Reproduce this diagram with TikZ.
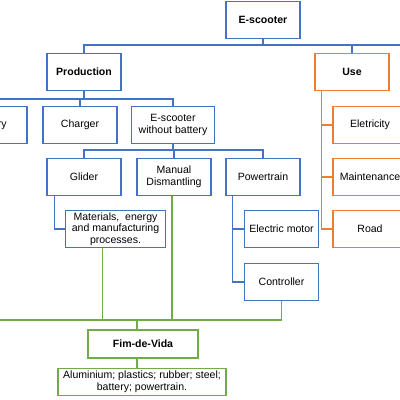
\documentclass[tikz,border=0pt]{standalone}
\usepackage{fontspec}
\setmainfont{Liberation Sans}
\usepackage{tikz}
\usetikzlibrary{positioning}
\definecolor{Blue}{HTML}{4472C4}
\definecolor{Orange}{HTML}{ED7D31}
\definecolor{Green}{HTML}{70AD47}

\begin{document}
\begin{tikzpicture}[x=0.025cm,y=-0.025cm,
    box/.style={draw=Blue,line width=0.8pt,fill=white,minimum width=1.85cm,
      minimum height=0.92cm,align=center,inner sep=1pt,
      font=\fontsize{7.5}{8.2}\selectfont},
    head/.style={box,font=\fontsize{7.5}{8.2}\selectfont\bfseries},
    usebox/.style={box,draw=Orange},
    eolbox/.style={box,draw=Green},
    bline/.style={draw=Blue,line width=0.8pt},
    oline/.style={draw=Orange,line width=0.8pt},
    gline/.style={draw=Green,line width=0.8pt}
  ]
    \useasboundingbox (0,0) rectangle (400,400);
    \clip (0,0) rectangle (400,400);

    % top levels
    \node[head] (escooter) at (263,20) {E-scooter};
    \node[head] (production) at (84,72) {Production};
    \node[head,draw=Orange] (use) at (352,72) {Use};

    % production
    \node[box] (battery) at (-10,125) {Battery};
    \node[box] (charger) at (80,125) {Charger};
    \node[box,minimum width=2.08cm] (nobattery) at (173,125) {E-scooter\\without battery};
    \node[box] (glider) at (84,177) {Glider};
    \node[box] (dismantling) at (174,177) {Manual\\Dismantling};
    \node[box] (powertrain) at (263,177) {Powertrain};
    \node[box,minimum width=2.48cm] (materials) at (115.5,229) {Materials,~ energy\\and manufacturing\\processes.};
    \node[box,minimum width=1.83cm] (motor) at (281.5,229) {Electric motor};
    \node[box,minimum width=1.83cm] (controller) at (281.5,282) {Controller};

    % use
    \node[usebox] (eletricity) at (370,125) {Eletricity};
    \node[usebox] (maintenance) at (370,177) {Maintenance};
    \node[usebox] (road) at (370,229) {Road};

    % end of life
    \node[eolbox,font=\fontsize{7.5}{8.2}\selectfont\bfseries,
      minimum width=2.75cm,minimum height=0.7cm] (fim) at (143,344) {Fim-de-Vida};
    \node[eolbox,minimum width=4.2cm,minimum height=0.68cm] (residues) at (142,382)
      {Aluminium; plastics; rubber; steel;\\battery; powertrain.};

    \coordinate (topend) at (410,45);
    \coordinate (eolend) at (-10,320);
    \coordinate (glstem) at ([xshift=0.2cm]glider.south west);
    \coordinate (ptstem) at ([xshift=0.18cm]powertrain.south west);
    \coordinate (usestem) at ([xshift=0.18cm]use.south west);

    % blue tree
    \draw[bline] (production.north) |- (topend);
    \draw[bline] (escooter.south) -- (escooter.south |- topend);
    \draw[bline] (use.north) -- (use.north |- topend);
    \draw[bline] (battery.north) -- ++(0,-7) -| (nobattery.north);
    \draw[bline] (production.south) -- ++(0,9);
    \draw[bline] (charger.north) -- ++(0,-7);
    \draw[bline] (glider.north) -- ++(0,-8) -| (powertrain.north);
    \draw[bline] (nobattery.south) -- ++(0,7);
    \draw[bline] (dismantling.north) -- ++(0,-8);
    \draw[bline] (glstem) |- (materials.west);
    \draw[bline] (ptstem) |- (controller.west);
    \draw[bline] (motor.west) -- (motor.west -| ptstem);

    % orange tree
    \draw[oline] (usestem) |- (road.west);
    \draw[oline] (eletricity.west) -- (eletricity.west -| usestem);
    \draw[oline] (maintenance.west) -- (maintenance.west -| usestem);

    % green tree
    \draw[gline] (controller.south) |- (eolend);
    \draw[gline] ([xshift=-0.33cm]materials.south) -- ([xshift=-0.33cm]materials.south |- eolend);
    \draw[gline] ([xshift=-0.05cm]dismantling.south) -- ([xshift=-0.05cm]dismantling.south |- eolend);
    \draw[gline] ([xshift=-0.15cm]fim.north) -- ([xshift=-0.15cm]fim.north |- eolend);
    \draw[gline] ([xshift=-0.15cm]fim.south) -- ([xshift=-0.15cm]fim.south |- residues.north);
  \end{tikzpicture}
\end{document}
